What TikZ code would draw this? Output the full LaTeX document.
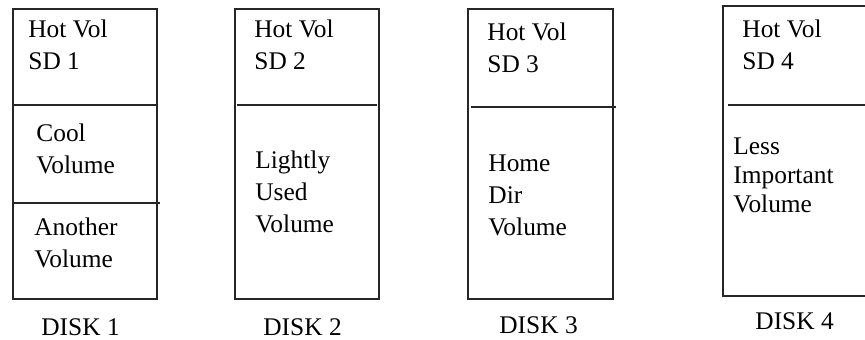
\documentclass[tikz,border=0pt]{standalone}
\usepackage{fontspec}
\setmainfont{Liberation Serif}
\usepackage{tikz}
\tikzset{
  disk/.style={line width=0.6pt, draw=black!85},
  vol/.style={align=left, anchor=base west, inner sep=0pt, font=\fontsize{12.7}{16}\selectfont},
  disklabel/.style={anchor=base west, inner sep=0pt, font=\fontsize{12.7}{16}\selectfont},
}

\begin{document}
\begin{tikzpicture}[x=0.5pt,y=-0.5pt]
\useasboundingbox (0,0) rectangle (865,339);
% disk 1 (nodes placed at baseline of last line)
\draw[disk] (13,9) rectangle (157,299);
\draw[disk] (13,105) -- (157,105);
\draw[disk] (13,203) -- (160,203);
\node[vol] (hot1) at (28,69) {Hot Vol\\SD 1};
\node[vol] (cool) at (36,173) {Cool\\Volume};
\node[vol] (another) at (34,267) {Another\\Volume};
\node[disklabel] (disk1) at (41,335) {DISK 1};
% disk 2
\draw[disk] (235,9) rectangle (379,299);
\draw[disk] (237,105) -- (377,105);
\node[vol] (hot2) at (254,69) {Hot Vol\\SD 2};
\node[vol] (light) at (255,232) {Lightly\\Used\\Volume};
\node[disklabel] (disk2) at (263,335) {DISK 2};
% disk 3
\draw[disk] (468,9) rectangle (613,299);
\draw[disk] (471,107) -- (616,107);
\node[vol] (hot3) at (487,72) {Hot Vol\\SD 3};
\node[vol] (home) at (488,235) {Home\\Dir\\Volume};
\node[disklabel] (disk3) at (499,333) {DISK 3};
% disk 4
\draw[disk] (723,6) rectangle (870,296);
\draw[disk] (728,105) -- (870,105);
\node[vol] (hot4) at (742,69) {Hot Vol\\SD 4};
\node[vol, font=\fontsize{12.7}{14.3}\selectfont] (less) at (733,212) {Less\\Important\\Volume};
\node[disklabel] (disk4) at (755,329) {DISK 4};
\end{tikzpicture}
\end{document}
